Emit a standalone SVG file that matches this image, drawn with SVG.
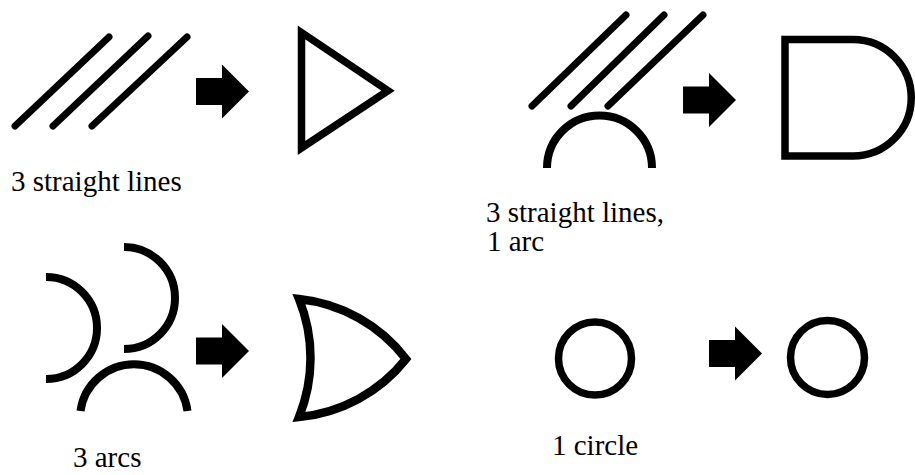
<svg xmlns="http://www.w3.org/2000/svg" width="915" height="475" viewBox="0 0 915 475">
<style>
.ln{stroke:#000;stroke-width:7;stroke-linecap:round;fill:none}
.arc{stroke:#000;stroke-width:8;stroke-linecap:butt;fill:none}
.shape{stroke:#000;stroke-width:7.5;fill:none;stroke-linejoin:miter;stroke-miterlimit:10}
.lbl{font-family:"Liberation Serif","Times New Roman",serif;font-size:29px;fill:#000}
</style>
<defs>
<path id="blk" d="M0,-13.5 H26 V-27 L53,0 L26,27 V13.5 H0 Z" fill="#000"/>
</defs>
<rect width="915" height="475" fill="#fff"/>

<g id="q1-input">
<line class="ln" x1="15" y1="126" x2="109" y2="37"/>
<line class="ln" x1="53" y1="126" x2="148" y2="36"/>
<line class="ln" x1="92" y1="126" x2="187" y2="37"/>
<text class="lbl" x="11" y="191">3 straight lines</text>
</g>
<g id="q1-output">
<path class="shape" d="M301.5,32.5 L388,90.7 L301.5,148 Z"/>
</g>

<g id="q2-input">
<line class="ln" x1="532" y1="106" x2="626" y2="15"/>
<line class="ln" x1="571" y1="106" x2="664" y2="15"/>
<line class="ln" x1="608" y1="106" x2="703" y2="15"/>
<path class="arc" d="M547,168 A52.5,52.5 0 0 1 652,168"/>
<text class="lbl" x="486" y="222">3 straight lines,<tspan x="487" dy="29">1 arc</tspan></text>
</g>
<g id="q2-output">
<path class="shape" d="M785,39.5 H853 A58.25,58.25 0 0 1 853,156 H785 Z"/>
</g>

<g id="q3-input">
<path class="arc" d="M46,277 A51,51 0 0 1 46,379"/>
<path class="arc" d="M124,247 A51,51 0 0 1 124,349"/>
<path class="arc" d="M80.5,411 A54,54 0 0 1 187.5,411"/>
<text class="lbl" x="73" y="467">3 arcs</text>
</g>
<g id="q3-output">
<path class="shape" style="stroke-width:8.5" d="M299,299 A155,155 0 0 1 406,359 A155,155 0 0 1 299,417 A157,157 0 0 0 299,299 Z"/>
</g>

<g id="q4-input">
<circle class="shape" cx="595" cy="358.5" r="36.5"/>
<text class="lbl" x="552" y="455">1 circle</text>
</g>
<g id="q4-output">
<circle class="shape" cx="827.5" cy="357.5" r="37"/>
</g>

<g id="connectors">
<use href="#blk" transform="translate(196,91.5)"/>
<use href="#blk" transform="translate(683,100)"/>
<use href="#blk" transform="translate(196,351)"/>
<use href="#blk" transform="translate(709,353.5)"/>
</g>
</svg>
